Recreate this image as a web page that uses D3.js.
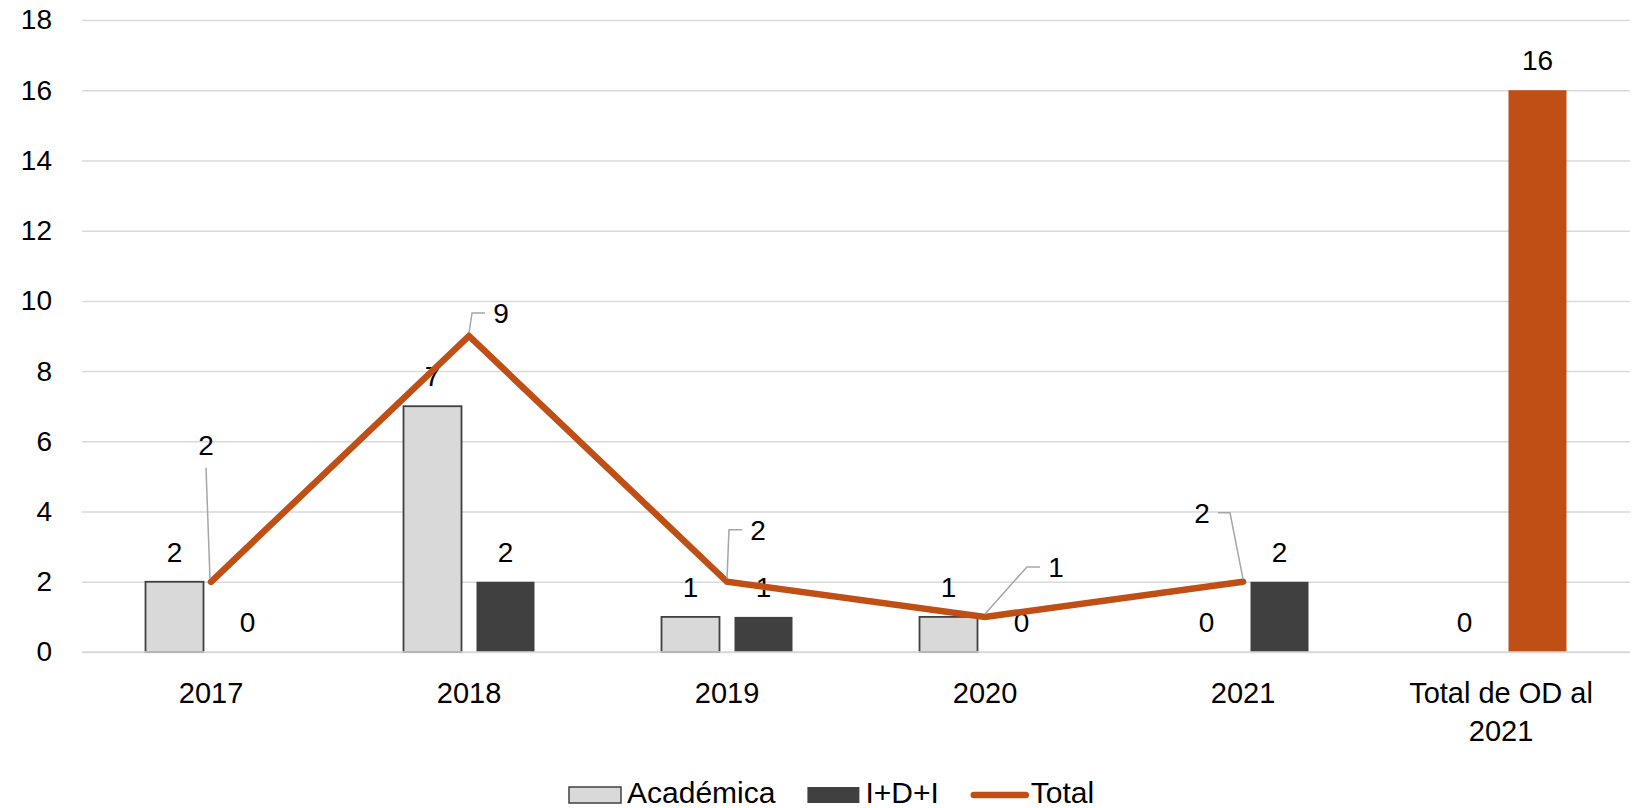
<!DOCTYPE html>
<html>
<head>
<meta charset="utf-8">
<script src="https://cdn.jsdelivr.net/npm/d3@7"></script>
<style>
body { margin: 0; background: #fff; }
text { font-family: "Liberation Sans", Arial, sans-serif; fill: #000; }
</style>
</head>
<body>
<div id="chart"></div>
<script>
var categories = ["2017", "2018", "2019", "2020", "2021", "Total de OD al 2021"];
var academica = [2, 7, 1, 1, 0, 0];
var idi = [0, 2, 1, 0, 2, 16];
var total = [2, 9, 2, 1, 2, null];
var yTicks = [0, 2, 4, 6, 8, 10, 12, 14, 16, 18];
var seriesNames = ["Académica", "I+D+I", "Total"];

// where the Total labels were dragged to (offset from the point) and which side the leader leaves from
var totalLabelPos = [
	{ dx: -5, dy: -137, side: "bottom" },
	{ dx: 32, dy: -23, side: "left" },
	{ dx: 31, dy: -52, side: "left" },
	{ dx: 71, dy: -50, side: "left" },
	{ dx: -41, dy: -69, side: "right" }
];

var w = 1650,
	h = 808,
	svg = d3
		.select("#chart")
		.append("svg")
		.attr("width", w)
		.attr("height", h);

var orange = "#C04F15",
	dark = "#404040",
	light = "#D9D9D9",
	grid = "#D9D9D9";

var margin = { top: 20, right: 1630, bottom: 652, left: 82 };

var x0 = d3.scaleBand().domain(categories).range([margin.left, margin.right]);
var x1 = d3.scaleBand()
	.domain(["Académica", "I+D+I"])
	.range([0, x0.bandwidth()])
	.paddingInner(0.2055)
	.paddingOuter(0.87);
var y = d3.scaleLinear().domain([0, 18]).range([margin.bottom, margin.top]);

// gridlines
var gGrid = svg.append("g")
	.attr("transform", `translate(${margin.left},0)`)
	.call(d3.axisLeft(y).tickValues(yTicks).tickSize(-(margin.right - margin.left)).tickFormat(""));
gGrid.select(".domain").remove();
gGrid.selectAll("line").attr("stroke", grid).attr("stroke-width", 1.5);

// y tick labels
var gY = svg.append("g")
	.attr("transform", `translate(${margin.left},0)`)
	.call(d3.axisLeft(y).tickValues(yTicks).tickSize(0).tickPadding(30));
gY.select(".domain").remove();
gY.selectAll("text")
	.attr("font-family", "Liberation Sans, Arial, sans-serif")
	.attr("font-size", 28)
	.attr("fill", "#000");

// bars
var rows = categories.map(function(c, i) {
	return { cat: c, a: academica[i], b: idi[i], t: total[i], i: i };
});

svg.append("g").selectAll("rect").data(rows.filter(function(d) { return d.a > 0; }))
	.enter().append("rect")
	.attr("x", function(d) { return x0(d.cat) + x1("Académica"); })
	.attr("y", function(d) { return y(d.a); })
	.attr("width", x1.bandwidth())
	.attr("height", function(d) { return y(0) - y(d.a); })
	.attr("fill", light)
	.attr("stroke", dark)
	.attr("stroke-width", 1.8);

svg.append("g").selectAll("rect").data(rows.filter(function(d) { return d.b > 0; }))
	.enter().append("rect")
	.attr("x", function(d) { return x0(d.cat) + x1("I+D+I"); })
	.attr("y", function(d) { return y(d.b); })
	.attr("width", x1.bandwidth())
	.attr("height", function(d) { return y(0) - y(d.b); })
	.attr("fill", function(d) { return d.i == categories.length - 1 ? orange : dark; });

// baseline on top of bars
svg.append("line")
	.attr("x1", margin.left).attr("x2", margin.right)
	.attr("y1", y(0)).attr("y2", y(0))
	.attr("stroke", grid).attr("stroke-width", 1.5);

// bar labels
var gLab = svg.append("g").attr("font-size", 28).attr("text-anchor", "middle");
rows.forEach(function(d) {
	gLab.append("text")
		.attr("x", x0(d.cat) + x1("Académica") + x1.bandwidth() / 2)
		.attr("y", y(d.a) - 20)
		.text(d.a);
	gLab.append("text")
		.attr("x", x0(d.cat) + x1("I+D+I") + x1.bandwidth() / 2)
		.attr("y", y(d.b) - 20)
		.text(d.b);
});

// Total line
var cx = function(d) { return x0(d.cat) + x0.bandwidth() / 2; };
var line = d3.line()
	.defined(function(d) { return d.t != null; })
	.x(cx)
	.y(function(d) { return y(d.t); });

svg.append("path")
	.datum(rows)
	.attr("d", line)
	.attr("fill", "none")
	.attr("stroke", orange)
	.attr("stroke-width", 6.5)
	.attr("stroke-linecap", "round")
	.attr("stroke-linejoin", "miter");

// Total labels with leader lines
var gTot = svg.append("g");
rows.filter(function(d) { return d.t != null; }).forEach(function(d) {
	var p = totalLabelPos[d.i];
	var px = cx(d), py = y(d.t);
	var lx = px + p.dx, ly = py + p.dy;
	var pts;
	if (p.side == "bottom") {
		pts = [[lx, ly + 23], [px - 1, py - 3]];
	} else if (p.side == "left") {
		pts = [[lx - 16, ly], [lx - 29, ly], [px, py - 3]];
	} else {
		pts = [[lx + 16, ly], [lx + 28, ly], [px, py - 3]];
	}
	gTot.append("path")
		.attr("d", d3.line()(pts))
		.attr("fill", "none")
		.attr("stroke", "#A6A6A6")
		.attr("stroke-width", 1.5);
	gTot.append("text")
		.attr("x", lx)
		.attr("y", ly + 10)
		.attr("text-anchor", "middle")
		.attr("font-size", 28)
		.text(d.t);
});

// category labels
var gX = svg.append("g")
	.attr("transform", `translate(0,${margin.bottom})`)
	.call(d3.axisBottom(x0).tickSize(0).tickPadding(30));
gX.select(".domain").remove();
gX.selectAll("text")
	.attr("font-family", "Liberation Sans, Arial, sans-serif")
	.attr("font-size", 29)
	.attr("fill", "#000")
	.call(wrap, 220);

function wrap(texts, width) {
	texts.each(function() {
		var text = d3.select(this),
			words = text.text().split(/\s+/),
			yy = text.attr("y"),
			dy = parseFloat(text.attr("dy")),
			lineNo = 0,
			cur = [],
			tspan = text.text(null).append("tspan").attr("x", 0).attr("y", yy).attr("dy", dy + "em");
		words.forEach(function(word) {
			cur.push(word);
			tspan.text(cur.join(" "));
			if (tspan.node().getComputedTextLength() > width && cur.length > 1) {
				cur.pop();
				tspan.text(cur.join(" "));
				cur = [word];
				lineNo++;
				tspan = text.append("tspan").attr("x", 0).attr("y", yy)
					.attr("dy", (dy + lineNo * 1.31) + "em").text(word);
			}
		});
	});
}

// legend
var legend = svg.append("g").attr("font-size", 30);
var lx = 569, ly = 803;
seriesNames.forEach(function(name, i) {
	if (name == "Total") {
		legend.append("line")
			.attr("x1", lx + 3).attr("x2", lx + 55)
			.attr("y1", ly - 8).attr("y2", ly - 8)
			.attr("stroke", orange).attr("stroke-width", 6.5)
			.attr("stroke-linecap", "round");
		lx += 60;
	} else {
		legend.append("rect")
			.attr("x", lx).attr("y", ly - 16)
			.attr("width", 52).attr("height", 16)
			.attr("fill", i == 0 ? light : dark)
			.attr("stroke", i == 0 ? dark : "none")
			.attr("stroke-width", 1.5);
		lx += 58;
	}
	var t = legend.append("text").attr("x", lx).attr("y", ly).text(name);
	lx += t.node().getComputedTextLength() + 32;
});
</script>
</body>
</html>
